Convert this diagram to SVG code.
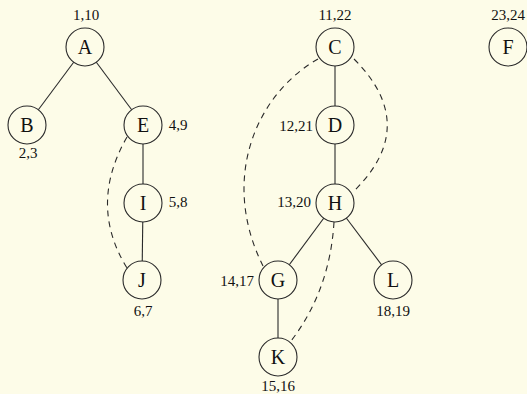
<svg xmlns="http://www.w3.org/2000/svg" width="527" height="394" viewBox="0 0 527 394">
<style>
.bg{fill:#fdfce8}
.n circle{fill:#fdfce8;stroke:#2a2a2a;stroke-width:1.1}
.n text{font-family:"Liberation Serif",serif;font-size:20px;fill:#111;text-anchor:middle}
.lbl{font-family:"Liberation Serif",serif;font-size:15px;fill:#111;text-anchor:middle}
.e{stroke:#2a2a2a;stroke-width:1.1;fill:none}
.d{stroke:#2a2a2a;stroke-width:1.1;fill:none;stroke-dasharray:6 5}
</style>
<rect class="bg" x="0" y="0" width="527" height="394"/>
<g id="connectors">
<line class="e" x1="85" y1="47" x2="27" y2="125"/>
<line class="e" x1="85" y1="47" x2="143" y2="125"/>
<line class="e" x1="143" y1="125" x2="143" y2="203"/>
<line class="e" x1="143" y1="203" x2="142" y2="280"/>
<line class="e" x1="335" y1="47" x2="335" y2="125"/>
<line class="e" x1="335" y1="125" x2="335" y2="203"/>
<line class="e" x1="335" y1="203" x2="278" y2="280"/>
<line class="e" x1="335" y1="203" x2="393" y2="280"/>
<line class="e" x1="278" y1="280" x2="278" y2="357"/>
<path class="d" d="M127,137 Q88,205 127,268"/>
<path class="d" d="M318,59 C255,95 220,180 263,266"/>
<path class="d" d="M354,59 Q420,125 355,190"/>
<path class="d" d="M334,222 Q330,290 291,341"/>
</g>
<g id="A" class="n"><circle cx="85" cy="47" r="19"/><text x="85" y="54">A</text></g>
<g id="B" class="n"><circle cx="27" cy="125" r="19"/><text x="27" y="132">B</text></g>
<g id="E" class="n"><circle cx="143" cy="125" r="19"/><text x="143" y="132">E</text></g>
<g id="I" class="n"><circle cx="143" cy="203" r="19"/><text x="143" y="210">I</text></g>
<g id="J" class="n"><circle cx="142" cy="280" r="19"/><text x="142" y="287">J</text></g>
<g id="C" class="n"><circle cx="335" cy="47" r="19"/><text x="335" y="54">C</text></g>
<g id="D" class="n"><circle cx="335" cy="125" r="19"/><text x="335" y="132">D</text></g>
<g id="H" class="n"><circle cx="335" cy="203" r="19"/><text x="335" y="210">H</text></g>
<g id="G" class="n"><circle cx="278" cy="280" r="19"/><text x="278" y="287">G</text></g>
<g id="L" class="n"><circle cx="393" cy="280" r="19"/><text x="393" y="287">L</text></g>
<g id="K" class="n"><circle cx="278" cy="357" r="19"/><text x="278" y="364">K</text></g>
<g id="F" class="n"><circle cx="508" cy="47" r="19"/><text x="508" y="54">F</text></g>
<g id="labels">
<text class="lbl" x="86" y="20">1,10</text>
<text class="lbl" x="28" y="158">2,3</text>
<text class="lbl" x="178" y="130">4,9</text>
<text class="lbl" x="178" y="207">5,8</text>
<text class="lbl" x="143" y="316">6,7</text>
<text class="lbl" x="335" y="20">11,22</text>
<text class="lbl" x="296" y="131">12,21</text>
<text class="lbl" x="294" y="207">13,20</text>
<text class="lbl" x="237" y="286">14,17</text>
<text class="lbl" x="393" y="316">18,19</text>
<text class="lbl" x="278" y="391">15,16</text>
<text class="lbl" x="508" y="20">23,24</text>
</g>
</svg>
